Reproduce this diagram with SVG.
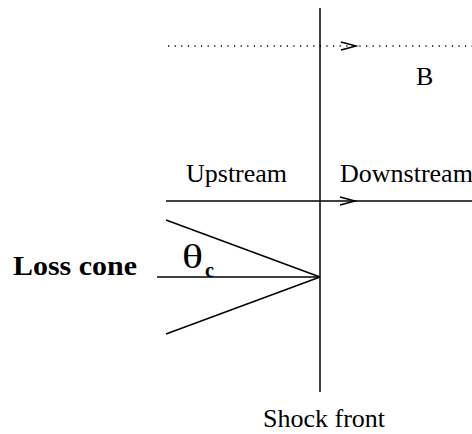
<svg xmlns="http://www.w3.org/2000/svg" width="472" height="434" viewBox="0 0 472 434">
<style>
.ln{stroke:#000;stroke-width:1.5;fill:none}
.t{font-family:"Liberation Serif","Times New Roman",serif;fill:#000}
</style>
<rect width="472" height="434" fill="#fff"/>
<g id="connectors">
<line class="ln" x1="168" y1="46" x2="472" y2="46" stroke-dasharray="1.2 5.4" stroke="#333"/>
<path class="ln" d="M341,42 L356,46 L341,50" stroke-width="1.3"/>
<line class="ln" x1="166" y1="201" x2="472" y2="201"/>
<path class="ln" d="M340,197 L355,201 L340,205" stroke-width="1.3"/>
<line class="ln" x1="166" y1="220" x2="320" y2="277" stroke-width="1.8"/>
<line class="ln" x1="166" y1="334" x2="320" y2="277" stroke-width="1.8"/>
<line class="ln" x1="157" y1="277" x2="320" y2="277"/>
</g>
<g id="shock">
<line class="ln" x1="320" y1="8" x2="320" y2="392" stroke-width="2.2"/>
<text class="t" x="263" y="427" font-size="26">Shock front</text>
</g>
<g id="labels">
<text class="t" x="416" y="85" font-size="26">B</text>
<text class="t" x="186" y="182" font-size="26">Upstream</text>
<text class="t" x="340" y="182" font-size="26">Downstream</text>
<text class="t" x="13" y="275" font-size="28" font-weight="bold" textLength="124" lengthAdjust="spacingAndGlyphs">Loss cone</text>
<text class="t" x="182" y="268" font-size="34" textLength="21" lengthAdjust="spacingAndGlyphs">θ</text>
<text class="t" x="205" y="277" font-size="20" font-weight="bold">c</text>
</g>
</svg>
